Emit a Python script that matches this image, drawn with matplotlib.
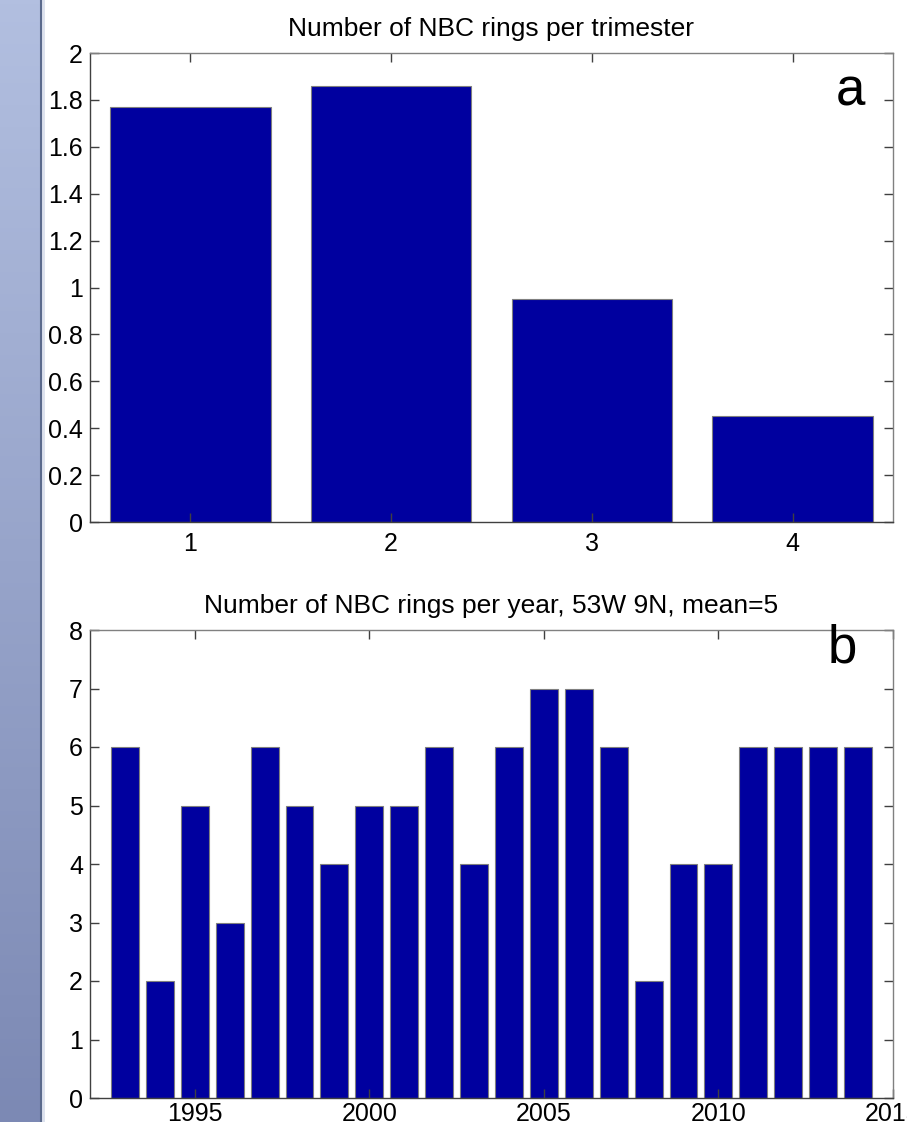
import matplotlib
matplotlib.use('Agg')
import matplotlib.pyplot as plt
import numpy as np

plt.rcParams['font.family'] = ['Liberation Sans', 'DejaVu Sans']

# panel a: rings per trimester
trimesters = [1, 2, 3, 4]
per_trimester = [1.77, 1.86, 0.95, 0.45]

# panel b: rings per year
years = list(range(1993, 2015))
per_year = [6, 2, 5, 3, 6, 5, 4, 5, 5, 6, 4, 6, 7, 7, 6, 2, 4, 4, 6, 6, 6, 6]

bar_col = '#00009f'
edge_col = '#7f7f7f'

fig = plt.figure(figsize=(9.07, 11.22), dpi=100)

# bluish strip at the left side
strip = fig.add_axes([0, 0, 40 / 907, 1])
grad = np.linspace(0, 1, 256).reshape(-1, 1)
top = np.array([178, 191, 224]) / 255
bot = np.array([124, 137, 180]) / 255
img = top + (bot - top) * grad[:, :, None]
strip.imshow(img, aspect='auto', extent=[0, 1, 0, 1])
strip.axis('off')
fig.add_artist(plt.Line2D([40.5 / 907, 40.5 / 907], [0, 1], color='#5b6a8c', lw=1.5))
fig.add_artist(plt.Rectangle((41.5 / 907, 0), 3 / 907, 1, color='#dde2ee', lw=0))


def style(ax, xpad):
    for s in ax.spines.values():
        s.set_color('#808080')
        s.set_linewidth(1)
    ax.spines['left'].set_color('#404040')
    ax.spines['bottom'].set_color('#404040')
    ax.tick_params(direction='in', length=6.5, width=1, color='#404040',
                   top=True, right=True, labelsize=18, pad=5)
    ax.tick_params(axis='x', pad=xpad)


ax1 = fig.add_axes([90 / 907, 1 - 522 / 1122, 803 / 907, 469 / 1122])
ax1.bar(trimesters, per_trimester, width=0.8, color=bar_col, edgecolor=edge_col, linewidth=0.8)
ax1.set_xlim(0.5, 4.5)
ax1.set_ylim(0, 2)
ax1.set_xticks(trimesters)
yt = np.round(np.arange(0, 2.01, 0.2), 1)
ax1.set_yticks(yt)
ax1.set_yticklabels([('%g' % v) for v in yt])
ax1.set_title('Number of NBC rings per trimester', fontsize=19, pad=12)
ax1.text(4.29, 1.778, 'a', fontsize=38, ha='center', va='baseline')
style(ax1, 7)

ax2 = fig.add_axes([90 / 907, 1 - 1098 / 1122, 803 / 907, 468 / 1122])
ax2.bar(years, per_year, width=0.8, color=bar_col, edgecolor=edge_col, linewidth=0.8)
ax2.set_xlim(1992, 2015)
ax2.set_ylim(0, 8)
ax2.set_xticks([1995, 2000, 2005, 2010, 2015])
ax2.set_yticks(range(0, 9))
ax2.set_title('Number of NBC rings per year, 53W 9N, mean=5', fontsize=19, pad=12)
ax2.text(2013.55, 7.45, 'b', fontsize=38, ha='center', va='baseline')
style(ax2, 3)

fig.savefig('out.png', dpi=100)
